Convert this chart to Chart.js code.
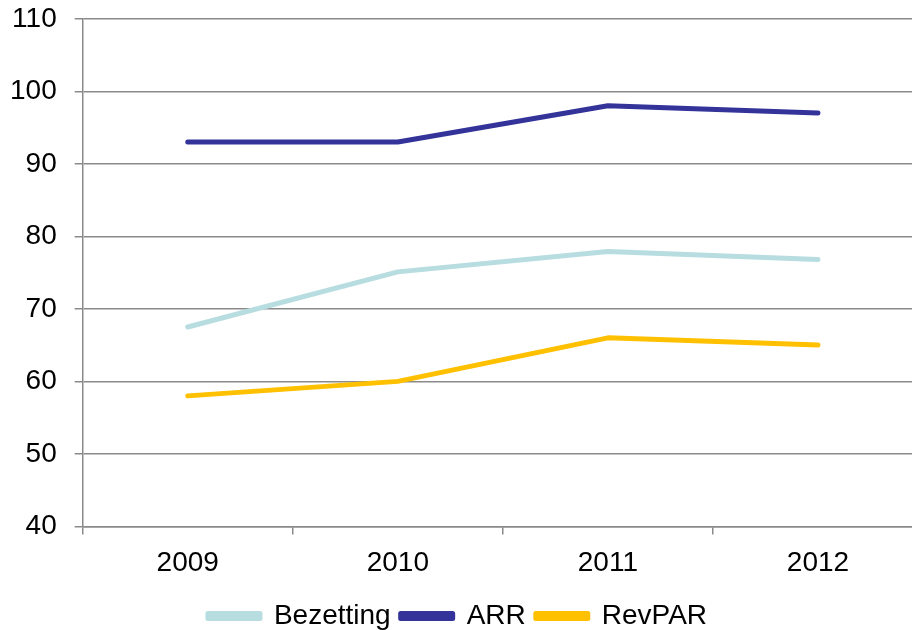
<!DOCTYPE html>
<html>
<head>
<meta charset="utf-8">
<script src="https://cdn.jsdelivr.net/npm/chart.js@4"></script>
<style>
html,body{margin:0;padding:0;background:#fff;overflow:hidden;}
#wrap{position:absolute;left:0;top:-16px;width:940px;height:656px;}
</style>
</head>
<body>
<div id="wrap"><canvas id="c"></canvas></div>
<script>
const years = ["2009", "2010", "2011", "2012"];
const bezetting = [67.5, 75.1, 77.9, 76.8];
const arr = [93, 93, 98, 97];
const revpar = [58, 60, 66, 65];
const seriesNames = ["Bezetting", "ARR", "RevPAR"];
const seriesColors = ["#B7DDE0", "#333399", "#FFC000"];

const FONT = "'Liberation Sans', Arial, sans-serif";
const GRID = "#8a8a8a";

const datasets = [bezetting, arr, revpar].map((d, i) => ({
  label: seriesNames[i],
  data: d,
  borderColor: seriesColors[i],
  backgroundColor: seriesColors[i],
  borderWidth: 5,
  pointRadius: 0,
  tension: 0,
  borderCapStyle: 'round',
  borderJoinStyle: 'round',
  fill: false
}));

new Chart(document.getElementById('c'), {
  type: 'line',
  data: { labels: years, datasets },
  options: {
    responsive: true,
    maintainAspectRatio: false,
    animation: false,
    layout: { padding: { top: 0, right: 17, left: -8, bottom: 0 } },
    plugins: {
      tooltip: { enabled: false },
      legend: {
        position: 'bottom',
        labels: {
          font: { family: FONT, size: 28 },
          color: '#000',
          boxWidth: 52,
          boxHeight: 5,
          padding: 10
        }
      }
    },
    scales: {
      x: {
        offset: true,
        grid: { offset: true, drawOnChartArea: false, drawTicks: true, tickLength: 8, color: GRID, lineWidth: 1.5 },
        border: { color: GRID, width: 1.5 },
        ticks: { font: { family: FONT, size: 28 }, color: '#000', padding: 12 }
      },
      y: {
        min: 40,
        max: 110,
        grid: { color: GRID, lineWidth: 1.5, tickLength: 8 },
        border: { color: GRID, width: 1.5 },
        ticks: { stepSize: 10, font: { family: FONT, size: 28 }, color: '#000', padding: 18 }
      }
    }
  }
});
</script>
</body>
</html>
